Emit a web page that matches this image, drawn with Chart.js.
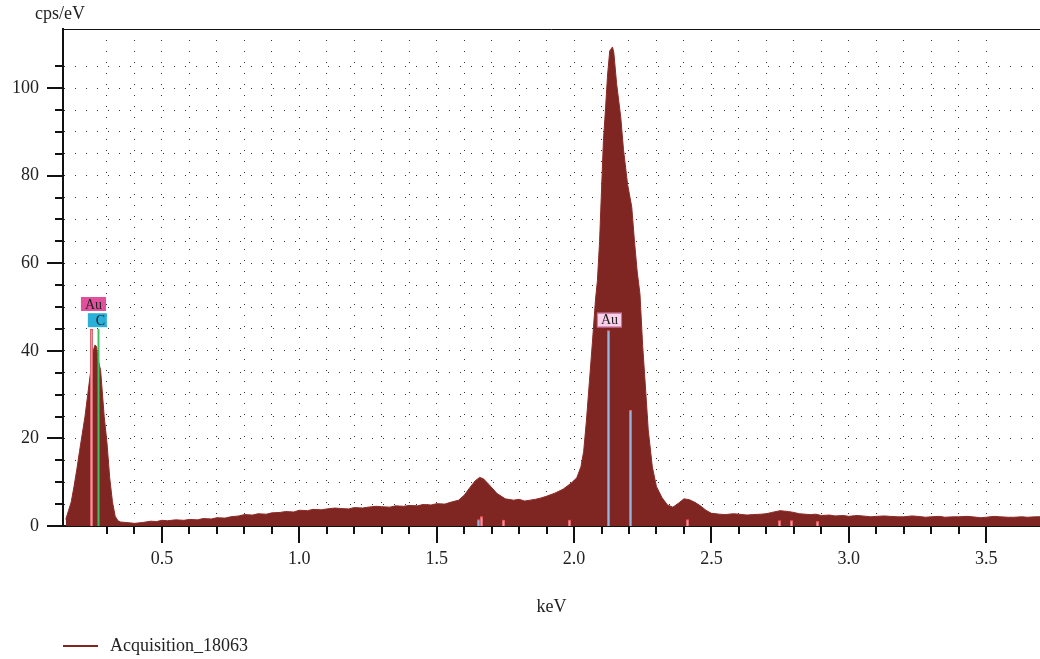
<!DOCTYPE html>
<html>
<head>
<meta charset="utf-8">
<script src="https://cdn.jsdelivr.net/npm/chart.js@4"></script>
<style>
  html, body { margin: 0; padding: 0; background: #fff; }
  #wrap { width: 1040px; height: 659px; }
</style>
</head>
<body>
<div id="wrap"><canvas id="myChart" width="1040" height="659"></canvas></div>
<script>
// spectrum (keV, cps/eV)
const energies = [
  0.15, 0.16, 0.17, 0.18, 0.19, 0.20, 0.21, 0.22, 0.23, 0.24,
  0.25, 0.256, 0.262, 0.268, 0.277, 0.285, 0.29, 0.30, 0.31, 0.32,
  0.33, 0.34, 0.35, 0.37, 0.40, 0.43, 0.46, 0.48, 0.50, 0.52,
  0.55, 0.58, 0.60, 0.63, 0.65, 0.68, 0.70, 0.73, 0.75, 0.78,
  0.80, 0.83, 0.85, 0.88, 0.90, 0.93, 0.95, 0.98, 1.00, 1.03,
  1.05, 1.08, 1.10, 1.13, 1.15, 1.18, 1.20, 1.23, 1.25, 1.28,
  1.30, 1.33, 1.35, 1.38, 1.40, 1.43, 1.45, 1.48, 1.50, 1.53,
  1.55, 1.58, 1.60, 1.62, 1.64, 1.656, 1.67, 1.69, 1.72, 1.75,
  1.78, 1.80, 1.82, 1.84, 1.86, 1.88, 1.90, 1.93, 1.96, 1.99,
  2.01, 2.025, 2.035, 2.045, 2.056, 2.067, 2.078, 2.085, 2.093, 2.10,
  2.107, 2.115, 2.122, 2.13, 2.14, 2.145, 2.155, 2.17, 2.18, 2.195,
  2.21, 2.22, 2.23, 2.24, 2.25, 2.26, 2.27, 2.285, 2.30, 2.32,
  2.34, 2.36, 2.38, 2.40, 2.42, 2.44, 2.46, 2.48, 2.50, 2.53,
  2.55, 2.58, 2.60, 2.63, 2.65, 2.68, 2.70, 2.72, 2.75, 2.78,
  2.80, 2.82, 2.86, 2.88, 2.90, 2.93, 2.95, 2.98, 3.00, 3.03,
  3.05, 3.08, 3.10, 3.13, 3.15, 3.18, 3.20, 3.23, 3.25, 3.28,
  3.30, 3.33, 3.35, 3.38, 3.40, 3.43, 3.45, 3.48, 3.50, 3.53,
  3.55, 3.58, 3.60, 3.63, 3.65, 3.68, 3.696
];
const counts = [
  1.5, 3.5, 5.5, 9.0, 12.8, 17.0, 21.0, 25.0, 30.0, 35.0,
  40.0, 41.3, 41.0, 38.0, 35.5, 29.0, 25.0, 19.0, 11.0, 5.5,
  2.2, 1.2, 0.9, 0.8, 0.6, 0.8, 1.1, 1.0, 1.3, 1.2,
  1.4, 1.3, 1.5, 1.4, 1.7, 1.6, 1.9, 1.8, 2.1, 2.3,
  2.6, 2.5, 2.8, 2.7, 3.0, 3.1, 3.3, 3.2, 3.6, 3.5,
  3.8, 3.7, 3.9, 4.1, 4.0, 3.9, 4.2, 4.1, 4.3, 4.5,
  4.4, 4.3, 4.6, 4.5, 4.7, 4.6, 4.9, 4.8, 5.1, 5.0,
  5.4, 5.9, 7.0, 8.7, 10.3, 11.1, 10.8, 9.5, 7.4, 6.2,
  5.9, 6.1, 5.7, 5.9, 6.1, 6.4, 6.8, 7.5, 8.4, 9.8,
  11.0, 13.5, 17.0, 24.0, 33.0, 42.0, 51.6, 56.0, 65.0, 76.7,
  88.0, 95.7, 103.0, 108.5, 109.4, 108.0, 101.0, 93.4, 86.0, 78.0,
  72.9, 65.0, 58.0, 53.0, 41.0, 31.7, 22.0, 13.5, 9.0, 6.5,
  4.8, 4.3, 5.2, 6.2, 6.0, 5.4, 4.6, 3.6, 2.9, 2.7,
  2.6, 2.8, 2.7, 2.5, 2.6, 2.7, 2.8, 3.1, 3.5, 3.3,
  3.1, 2.8, 2.6, 2.7, 2.4, 2.5, 2.3, 2.4, 2.2, 2.4,
  2.3, 2.1, 2.2, 2.3, 2.2, 2.1, 2.1, 2.3, 2.2, 2.0,
  2.1, 2.2, 2.0, 2.1, 2.1, 2.2, 2.1, 1.9, 2.0, 2.2,
  2.1, 2.0, 2.0, 2.1, 2.0, 2.1, 2.1
];

// element marker lines
const markerEnergy = [0.243, 0.266, 2.122, 2.204, 1.652, 1.662, 1.74, 1.98, 2.41, 2.745, 2.79, 2.885];
const markerHeight = [45, 45, 44.7, 26.5, 1.5, 2.2, 1.4, 1.4, 1.5, 1.3, 1.3, 1.1];
const markerElement = ['Au', 'C', 'Au', 'Au', 'Au', 'Au', 'Au', 'Au', 'Au', 'Au', 'Au', 'Au'];

// marker tags
const tagText = ['Au', 'C', 'Au'];
const tagEnergy = [0.251, 0.265, 2.129];
const tagValue = [50.7, 47.0, 47.1];
const tagFill = ['#e0509c', '#2ab0d8', '#fbd0ea'];

const xMajor = [0.5, 1.0, 1.5, 2.0, 2.5, 3.0, 3.5];
const yMajor = [0, 20, 40, 60, 80, 100];

const seriesName = 'Acquisition_18063';
const xTitle = 'keV';
const yTitle = 'cps/eV';

const maroon = '#802622';
const serif = "'Liberation Serif', 'DejaVu Serif', serif";

const isMajor = (list, v) => list.some(m => Math.abs(m - v) < 1e-6);

const extras = {
  id: 'extras',
  afterDatasetsDraw(chart) {
    const ctx = chart.ctx, x = chart.scales.x, y = chart.scales.y, a = chart.chartArea;
    ctx.save();
    ctx.beginPath();
    ctx.rect(a.left, a.top, a.right - a.left, a.bottom - a.top);
    ctx.clip();
    markerEnergy.forEach((e, i) => {
      const px = Math.round(x.getPixelForValue(e)) + 0.5;
      const top = y.getPixelForValue(markerHeight[i]);
      if (markerElement[i] === 'C') {
        ctx.strokeStyle = '#3cc060';
        ctx.lineWidth = 2;
        ctx.beginPath(); ctx.moveTo(px, a.bottom); ctx.lineTo(px, top); ctx.stroke();
      } else {
        ctx.strokeStyle = '#f05050';
        ctx.lineWidth = 3;
        ctx.beginPath(); ctx.moveTo(px, a.bottom); ctx.lineTo(px, top); ctx.stroke();
        ctx.strokeStyle = '#90b8e0';
        ctx.lineWidth = 1.5;
        ctx.beginPath(); ctx.moveTo(px, a.bottom); ctx.lineTo(px, top + 1); ctx.stroke();
      }
    });
    ctx.font = '14px ' + serif;
    ctx.textAlign = 'center';
    ctx.textBaseline = 'middle';
    tagText.forEach((t, i) => {
      const cx = x.getPixelForValue(tagEnergy[i]);
      const cy = y.getPixelForValue(tagValue[i]);
      const w = Math.max(ctx.measureText(t).width + 8, 19);
      ctx.fillStyle = tagFill[i];
      ctx.fillRect(cx - w / 2, cy - 7, w, 14);
      if (i === 2) {
        ctx.strokeStyle = '#c070a0';
        ctx.lineWidth = 1;
        ctx.strokeRect(cx - w / 2 + 0.5, cy - 7 + 0.5, w - 1, 14);
      }
      ctx.fillStyle = '#222';
      ctx.fillText(t, cx + (i === 1 ? 3 : 0), cy + 1);
    });
    ctx.restore();
  },
  afterDraw(chart) {
    const ctx = chart.ctx, x = chart.scales.x, y = chart.scales.y, a = chart.chartArea;
    ctx.save();
    ctx.strokeStyle = '#111';
    ctx.lineWidth = 2;
    // tick marks
    x.ticks.forEach(t => {
      const px = Math.round(x.getPixelForValue(t.value));
      const len = isMajor(xMajor, t.value) ? 17 : 8;
      ctx.beginPath(); ctx.moveTo(px, a.bottom); ctx.lineTo(px, a.bottom + len); ctx.stroke();
    });
    y.ticks.forEach(t => {
      const py = Math.round(y.getPixelForValue(t.value));
      const len = isMajor(yMajor, t.value) ? 16 : 8;
      ctx.beginPath(); ctx.moveTo(a.left, py); ctx.lineTo(a.left - len, py); ctx.stroke();
    });
    // frame top
    ctx.lineWidth = 1;
    ctx.beginPath(); ctx.moveTo(a.left, a.top + 0.5); ctx.lineTo(a.right, a.top + 0.5); ctx.stroke();
    // y title
    ctx.fillStyle = '#222';
    ctx.font = '18px ' + serif;
    ctx.textAlign = 'left';
    ctx.textBaseline = 'alphabetic';
    ctx.fillText(yTitle, 35, 19);
    // legend
    ctx.strokeStyle = maroon;
    ctx.lineWidth = 2;
    ctx.beginPath(); ctx.moveTo(63, 646); ctx.lineTo(98, 646); ctx.stroke();
    ctx.textBaseline = 'middle';
    ctx.fillText(seriesName, 110, 646);
    ctx.restore();
  }
};

const data = {
  datasets: [{
    label: seriesName,
    data: energies.map((e, i) => ({ x: e, y: counts[i] })),
    fill: 'origin',
    backgroundColor: maroon,
    borderColor: '#8c2a26',
    borderWidth: 1,
    pointRadius: 0,
    tension: 0
  }]
};

const config = {
  type: 'line',
  data,
  options: {
    animation: false,
    responsive: false,
    layout: { padding: { top: 29, right: 0, bottom: 37, left: 0 } },
    plugins: {
      legend: { display: false },
      tooltip: { enabled: false }
    },
    scales: {
      x: {
        type: 'linear',
        min: 0.14,
        max: 3.696,
        afterBuildTicks: s => { s.ticks = s.ticks.filter(t => Math.abs(t.value * 10 - Math.round(t.value * 10)) < 1e-6); },
        afterFit: s => { s.height = 96; },
        ticks: {
          stepSize: 0.1,
          autoSkip: false,
          maxRotation: 0,
          padding: 5,
          color: '#222',
          font: { family: serif, size: 18 },
          callback: v => isMajor(xMajor, v) ? v.toFixed(1) : ''
        },
        grid: {
          color: '#333',
          lineWidth: 1,
          drawTicks: true,
          tickLength: 17,
          tickColor: 'rgba(0,0,0,0)'
        },
        border: { color: '#111', width: 2, dash: [1, 10] },
        title: {
          display: true,
          text: xTitle,
          color: '#222',
          font: { family: serif, size: 18 },
          padding: { top: 24 }
        }
      },
      y: {
        min: 0,
        max: 113.5,
        afterBuildTicks: s => { s.ticks = s.ticks.filter(t => Math.abs(t.value / 5 - Math.round(t.value / 5)) < 1e-6); },
        afterFit: s => { s.width = 63; },
        ticks: {
          stepSize: 5,
          autoSkip: false,
          padding: 8,
          color: '#222',
          font: { family: serif, size: 18 },
          callback: v => isMajor(yMajor, v) ? String(v) : ''
        },
        grid: {
          color: '#333',
          lineWidth: 1,
          drawTicks: true,
          tickLength: 16,
          tickColor: 'rgba(0,0,0,0)'
        },
        border: { color: '#111', width: 2, dash: [1, 10] }
      }
    }
  },
  plugins: [extras]
};

var myChart = new Chart(
  document.getElementById('myChart'),
  config
);
</script>
</body>
</html>
